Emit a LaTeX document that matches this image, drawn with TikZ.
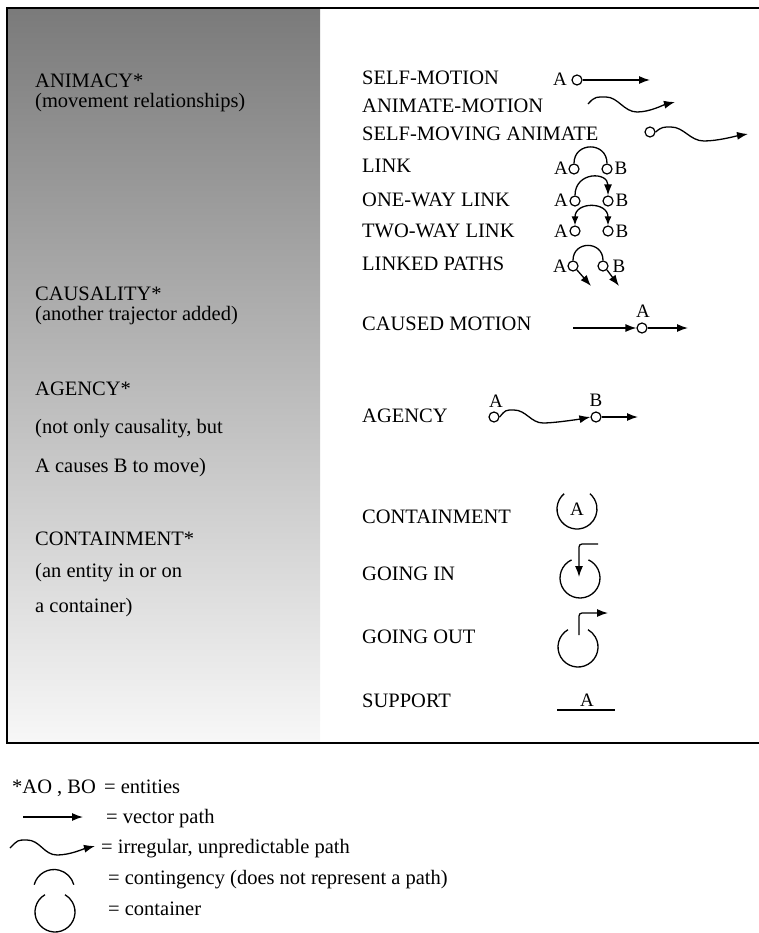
\documentclass[tikz,border=0pt]{standalone}
\usepackage{fontspec}
\setmainfont{Liberation Serif}
\usetikzlibrary{arrows.meta}

\begin{document}
\begin{tikzpicture}[x=1pt, y=-1pt,
    ent/.style={circle, draw, line width=1.2pt, inner sep=0pt, minimum size=10pt},
    ctn/.style={circle, inner sep=0pt, outer sep=0pt, minimum size=40pt, font=\fontsize{19}{21}\selectfont},
    lbl/.style={anchor=base west, inner sep=0pt},
    ltr/.style={anchor=base, inner sep=0pt, font=\fontsize{19}{21}\selectfont},
    ln/.style={line width=1.3pt},
    vec/.style={line width=1.3pt, -{Latex[length=11pt,width=8pt]}},
    vecb/.style={line width=1.3pt, {Latex[length=9pt,width=7pt]}-{Latex[length=9pt,width=7pt]}}]
                \useasboundingbox (0,0) rectangle (759,933);
                {\fontsize{20.5}{24}\selectfont

                % Shading left panel
                \shade [top color=black!52, bottom color=black!3] (7,8) rectangle (320,743);%

                % Drawing frame
                \draw [line width=1.8pt] (759,8) -- (7,8) -- (7,743) -- (759,743);%

                % Marking left headings
                \node [lbl] (hAnim) at (35,88) {ANIMACY*};%
                \node [lbl] (hAnimT) at (35,108) {(movement relationships)};%
                \node [lbl] (hCaus) at (35,300) {CAUSALITY*};%
                \node [lbl] (hCausT) at (35,320) {(another trajector added)};%
                \node [lbl] (hAg) at (35,395) {AGENCY*};%
                \node [lbl] (hAgT) at (35,433) {(not only causality, but};%
                \node [lbl] (hAgU) at (35,472) {A causes B to move)};%
                \node [lbl] (hCont) at (35,545) {CONTAINMENT*};%
                \node [lbl] (hContT) at (35,577) {(an entity in or on};%
                \node [lbl] (hContU) at (35,612) {a container)};%

                % Marking right labels
                \node [lbl] (rSelf) at (362,85) {SELF-MOTION};%
                \node [lbl] (rAnim) at (362,113) {ANIMATE-MOTION};%
                \node [lbl] (rSma) at (362,141) {SELF-MOVING ANIMATE};%
                \node [lbl] (rLink) at (362,173) {LINK};%
                \node [lbl] (rOne) at (362,207) {ONE-WAY LINK};%
                \node [lbl] (rTwo) at (362,237) {TWO-WAY LINK};%
                \node [lbl] (rPath) at (362,270) {LINKED PATHS};%
                \node [lbl] (rCaus) at (362,330) {CAUSED MOTION};%
                \node [lbl] (rAg) at (362,422) {AGENCY};%
                \node [lbl] (rCont) at (362,523) {CONTAINMENT};%
                \node [lbl] (rIn) at (362,580) {GOING IN};%
                \node [lbl] (rOut) at (362,643) {GOING OUT};%
                \node [lbl] (rSup) at (362,707) {SUPPORT};%

                % Drawing self-motion
                \node [ltr] (smL) at (560,86) {A};%
                \node [ent] (sm) at (577,80) {};%
                \coordinate (smE) at (650,80);%
                \draw [vec] (sm) -- (smE);%

                % Drawing animate-motion
                \coordinate (amS) at (588,104);%
                \coordinate (amE) at (675,102);%
                \draw [vec] (amS) .. controls +(7,-8) and +(-9,0) .. (606,97) .. controls +(12,0) and +(-13,0) .. (637,112) .. controls +(13,0) and +(-12,3) .. (amE);%

                % Drawing self-moving animate
                \node [ent] (sma) at (650,132) {};%
                \coordinate (smaE) at (748,134);%
                \draw [vec] (sma.east) .. controls +(6,-5) and +(-8,0) .. (671,127) .. controls +(13,0) and +(-14,0) .. (704,141) .. controls +(14,0) and +(-12,2) .. (smaE);%

                % Drawing link
                \node [ltr] (lkL) at (561,175) {A};%
                \node [ent] (lkA) at (574,169) {};%
                \node [ent] (lkB) at (607,169) {};%
                \node [ltr] (lkR) at (621,175) {B};%
                \draw [ln] (lkA.north) .. controls +(0,-22) and +(0,-22) .. (lkB.north);%

                % Drawing one-way link
                \node [ltr] (owL) at (561,207) {A};%
                \node [ent] (owA) at (575,201) {};%
                \node [ent] (owB) at (608,201) {};%
                \node [ltr] (owR) at (622,207) {B};%
                \draw [vec] (owA.north) .. controls +(0,-24) and +(0,-24) .. (owB.north);%

                % Drawing two-way link
                \node [ltr] (twL) at (561,237) {A};%
                \node [ent] (twA) at (575,231) {};%
                \node [ent] (twB) at (608,231) {};%
                \node [ltr] (twR) at (622,237) {B};%
                \draw [vecb] (twA.north) .. controls +(0,-24) and +(0,-24) .. (twB.north);%

                % Drawing linked paths
                \node [ltr] (lpL) at (560,272) {A};%
                \node [ent] (lpA) at (573,266) {};%
                \node [ent] (lpB) at (603,266) {};%
                \node [ltr] (lpR) at (619,272) {B};%
                \draw [ln] (lpA.north) .. controls +(0,-20) and +(0,-20) .. (lpB.north);%
                \coordinate (lpAE) at (591,286);%
                \coordinate (lpBE) at (619,286);%
                \draw [vec] (lpA.south east) -- (lpAE);%
                \draw [vec] (lpB.south east) -- (lpBE);%

                % Drawing caused motion
                \coordinate (cmS) at (573,328);%
                \node [ent] (cm) at (642,328) {};%
                \node [ltr] (cmL) at (643,317) {A};%
                \coordinate (cmE) at (688,328);%
                \draw [vec] (cmS) -- (cm);%
                \draw [vec] (cm) -- (cmE);%

                % Drawing agency
                \node [ent] (agA) at (494,417) {};%
                \node [ltr] (agAL) at (496,407) {A};%
                \node [ent] (agB) at (596,417) {};%
                \node [ltr] (agBL) at (596,406) {B};%
                \coordinate (agE) at (638,417);%
                \draw [vec] (agA.east) .. controls +(6,-7) and +(-9,0) .. (514,410) .. controls +(12,0) and +(-12,0) .. (543,423) .. controls +(12,0) and +(-10,2) .. (agB.west);%
                \draw [vec] (agB) -- (agE);%

                % Drawing containment
                \node [ctn] (ctA) at (577,509) {A};%
                \draw [ln] (ctA.130) arc [start angle=130, end angle=410, radius=20pt];%

                % Drawing going in
                \node [ctn] (gi) at (580,578) {};%
                \draw [ln] (gi.115) arc [start angle=115, end angle=425, radius=20pt];%
                \coordinate (giS) at (598,544);%
                \coordinate (giE) at (579,577);%
                \draw [vec, rounded corners=3pt] (giS) -| (giE);%

                % Drawing going out
                \node [ctn] (go) at (578,647) {};%
                \draw [ln] (go.120) arc [start angle=120, end angle=420, radius=20pt];%
                \coordinate (goS) at (579,635);%
                \coordinate (goE) at (608,613);%
                \draw [vec, rounded corners=3pt] (goS) |- (goE);%

                % Drawing support
                \node [ltr] (spA) at (587,706) {A};%
                \coordinate (spL) at (557,710);%
                \coordinate (spR) at (615,710);%
                \draw [ln] (spL) -- (spR);%

                % Marking legend
                \node [lbl] (lgEnt) at (12,793) {*AO , BO};%
                \node [lbl] (lgEntT) at (104,793) {= entities};%
                \coordinate (lgVS) at (23,817);%
                \coordinate (lgVE) at (83,817);%
                \draw [vec] (lgVS) -- (lgVE);%
                \node [lbl] (lgVecT) at (106,823) {= vector path};%
                \coordinate (lgWS) at (10,848);%
                \coordinate (lgWE) at (95,846);%
                \draw [vec] (lgWS) .. controls +(8,-8) and +(-10,0) .. (27,840) .. controls +(13,0) and +(-13,0) .. (57,855) .. controls +(13,0) and +(-12,3) .. (lgWE);%
                \node [lbl] (lgIrrT) at (101,853) {= irregular, unpredictable path};%
                \node [ctn, minimum size=41pt] (lgCg) at (54,890) {};%
                \draw [ln] (lgCg.165) arc [start angle=165, end angle=15, radius=20.5pt];%
                \node [lbl] (lgCgT) at (108,884) {= contingency (does not represent a path)};%
                \node [ctn] (lgCt) at (55,912) {};%
                \draw [ln] (lgCt.120) arc [start angle=120, end angle=420, radius=20pt];%
                \node [lbl] (lgCtT) at (108,915) {= container};%
                }
\end{tikzpicture}
\end{document}
